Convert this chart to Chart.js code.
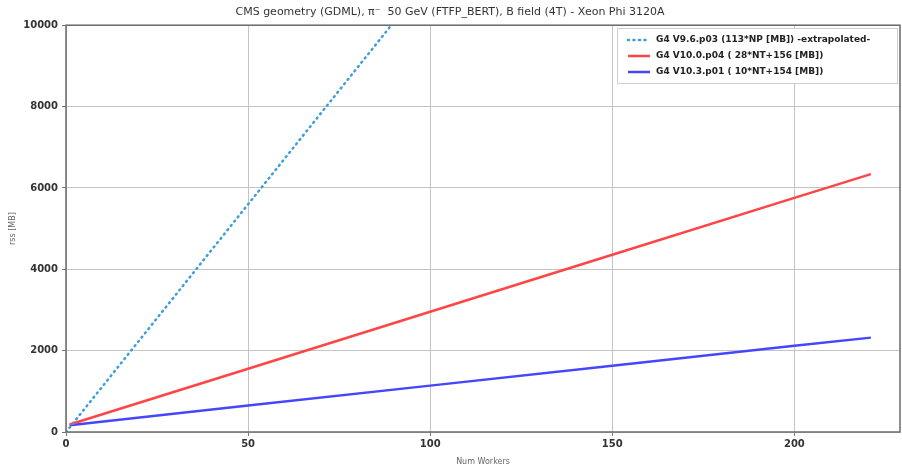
<!DOCTYPE html>
<html>
<head>
<meta charset="utf-8">
<script src="https://cdn.jsdelivr.net/npm/chart.js@4"></script>
<style>
  html, body { margin: 0; padding: 0; background: #fff; }
  #wrap { width: 902px; height: 467px; }
</style>
</head>
<body>
<div id="wrap"><canvas id="rssChart" width="902" height="467"></canvas></div>
<script>
// values
const workers = [1, 50, 100, 150, 200, 221];
const rssV10p0 = [184, 1556, 2956, 4356, 5756, 6340];
const rssV10p3 = [164, 650, 1140, 1630, 2120, 2320];
const workersV9 = [0, 92];
const rssV9 = [0, 10300];
const xTicks = [0, 50, 100, 150, 200];
const yTicks = [0, 2000, 4000, 6000, 8000, 10000];

const seriesLabels = [
    "G4 V9.6.p03 (113*NP [MB]) -extrapolated-",
    "G4 V10.0.p04 ( 28*NT+156 [MB])",
    "G4 V10.3.p01 ( 10*NT+154 [MB])"
];

function toPoints(xs, ys) {
    return xs.map((x, i) => ({ x: x, y: ys[i] }));
}

// frame + legend inside the plot, matplotlib style
const framePlugin = {
    id: "frameLegend",
    afterDraw(chart) {
        const ctx = chart.ctx;
        const a = chart.chartArea;
        ctx.save();
        ctx.strokeStyle = "#6a6a6a";
        ctx.lineWidth = 1.5;
        ctx.strokeRect(a.left, a.top, a.right - a.left, a.bottom - a.top);

        // legend box
        const bx = 617, by = 28, bw = 280, bh = 55;
        ctx.fillStyle = "rgba(255,255,255,0.9)";
        ctx.fillRect(bx, by, bw, bh);
        ctx.strokeStyle = "#cfcfcf";
        ctx.lineWidth = 1;
        ctx.strokeRect(bx + 0.5, by + 0.5, bw, bh);

        ctx.font = "bold 9px 'DejaVu Sans'";
        ctx.textBaseline = "middle";
        chart.data.datasets.forEach((ds, i) => {
            const y = 40 + i * 16;
            ctx.beginPath();
            ctx.strokeStyle = ds.borderColor;
            ctx.lineWidth = ds.borderWidth;
            ctx.lineCap = ds.borderDash.length ? "round" : "butt";
            ctx.setLineDash(ds.borderDash);
            ctx.moveTo(628, y);
            ctx.lineTo(650, y);
            ctx.stroke();
            ctx.setLineDash([]);
            ctx.fillStyle = "#222";
            ctx.fillText(ds.label, 656, y);
        });
        ctx.restore();
    }
};

const ctx = document.getElementById("rssChart").getContext("2d");
new Chart(ctx, {
    type: "line",
    data: {
        datasets: [
            {
                label: seriesLabels[0],
                data: toPoints(workersV9, rssV9),
                borderColor: "#3d9fd4",
                borderWidth: 2.5,
                borderDash: [1, 4.5],
                borderCapStyle: "round",
                pointRadius: 0,
                fill: false,
            },
            {
                label: seriesLabels[1],
                data: toPoints(workers, rssV10p0),
                borderColor: "#ff4545",
                borderWidth: 2.5,
                borderDash: [],
                pointRadius: 0,
                fill: false,
            },
            {
                label: seriesLabels[2],
                data: toPoints(workers, rssV10p3),
                borderColor: "#4646ff",
                borderWidth: 2.5,
                borderDash: [],
                pointRadius: 0,
                fill: false,
            },
        ],
    },
    options: {
        responsive: false,
        animation: false,
        devicePixelRatio: 1,
        layout: { padding: { top: 0, right: 2, left: 0, bottom: 0 } },
        plugins: {
            legend: { display: false },
            tooltip: { enabled: false },
            title: {
                display: true,
                text: "CMS geometry (GDML), \u03c0\u207b  50 GeV (FTFP_BERT), B field (4T) - Xeon Phi 3120A",
                color: "#333",
                font: { family: "DejaVu Sans", size: 11, weight: "normal" },
                padding: { top: 6, bottom: 6 },
            },
        },
        scales: {
            x: {
                type: "linear",
                min: 0,
                max: 229,
                afterFit(scale) { scale.height = 35; },
                afterBuildTicks(scale) { scale.ticks = xTicks.map((v) => ({ value: v })); },
                ticks: {
                    color: "#333",
                    font: { family: "DejaVu Sans", size: 10, weight: "bold" },
                    padding: 2,
                    maxRotation: 0,
                    callback: (v) => String(v),
                },
                grid: { color: "#c4c4c4", lineWidth: 1, tickLength: 4, tickColor: "#777" },
                border: { display: false },
                title: {
                    display: true,
                    text: "Num Workers",
                    color: "#666",
                    font: { family: "DejaVu Sans", size: 8 },
                    padding: { top: 2, bottom: 0 },
                },
            },
            y: {
                type: "linear",
                min: 0,
                max: 10000,
                afterFit(scale) { scale.width = 66; },
                afterBuildTicks(scale) { scale.ticks = yTicks.map((v) => ({ value: v })); },
                ticks: {
                    color: "#333",
                    font: { family: "DejaVu Sans", size: 10, weight: "bold" },
                    padding: 4,
                    callback: (v) => String(v),
                },
                grid: { color: "#c4c4c4", lineWidth: 1, tickLength: 4, tickColor: "#777" },
                border: { display: false },
                title: {
                    display: true,
                    text: "rss [MB]",
                    color: "#666",
                    font: { family: "DejaVu Sans", size: 8 },
                    padding: { top: 8, bottom: 4 },
                },
            },
        },
    },
    plugins: [framePlugin],
});
</script>
</body>
</html>
